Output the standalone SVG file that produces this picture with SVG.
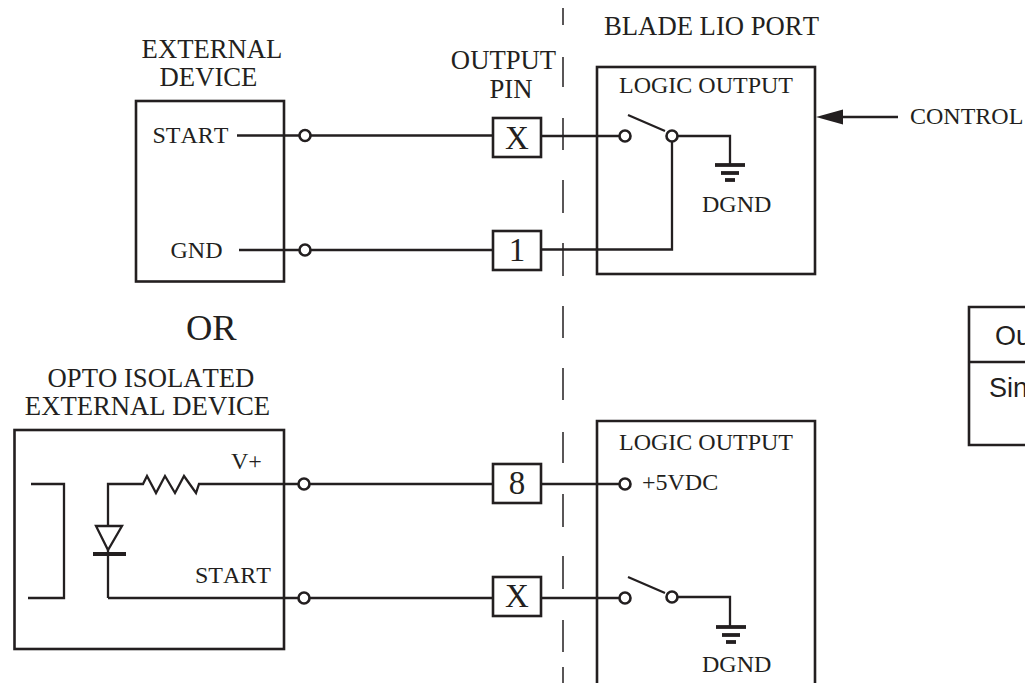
<svg xmlns="http://www.w3.org/2000/svg" width="1025" height="683" viewBox="0 0 1025 683">
<style>
text{font-family:"Liberation Serif","Times New Roman",serif;font-size:24px;fill:#231f20;font-kerning:none}
.l{font-size:26.700px}
.n{font-size:33px;text-anchor:middle}
.s{font-family:"Liberation Sans",Arial,sans-serif;font-size:27px}
.m{text-anchor:middle}
rect,path,line,polyline,circle{fill:none;stroke:#231f20;stroke-width:2.300}
.box{stroke-width:2.600}
circle{fill:#fff;stroke-width:2.600}
.g{stroke-width:3.800}
.d{stroke-width:1.500}
</style>
<defs>
<g id="gnd"><line class="g" x1="-15" x2="15" y1="0" y2="0"/><line class="g" x1="-9" x2="9" y1="8" y2="8"/><line class="g" x1="-5" x2="5" y1="15" y2="15"/></g>
</defs>
<rect width="1025" height="683" fill="#fff" style="fill:#fff;stroke:none"/>
<g id="connectors">
<path id="port-divider" class="d" d="M563 8V25M563 57V87M563 118V150M563 180V213M563 243V276M563 306V338M563 368V400M563 432V463M563 494V527M563 556V589M563 620V652M563 667V683"/>
<path d="M237 135.500H299M311 135.500H493M542 136H619"/>
<path d="M239 250H299M311 250H493M542 249.500H672V142"/>
<path d="M219 484H298M310 484H493M542 484H619"/>
<path d="M108 598H298M310 598H493M542 598H619"/>
<path d="M678 136H730V165"/>
<path d="M678 597H730V626"/>
<line x1="628" y1="115" x2="665" y2="131"/>
<line x1="628" y1="577" x2="665" y2="593"/>
<path d="M898 117H840"/>
<polygon points="816,117 843,109.500 843,124.500" style="fill:#231f20;stroke:none"/>
</g>
<g id="external-device">
<rect class="box" x="136" y="101" width="148" height="180.500"/>
<text class="m l" x="212" y="58">EXTERNAL</text>
<text class="m l" x="208.500" y="85.500">DEVICE</text>
<text x="152.500" y="143">START</text>
<text x="170.500" y="258">GND</text>
<circle cx="305" cy="135.500" r="5.500"/>
<circle cx="305" cy="250" r="5.500"/>
</g>
<text id="or" x="186" y="340" style="font-size:36.500px">OR</text>
<g id="opto-device">
<rect class="box" x="14.500" y="430" width="269.500" height="219"/>
<text class="m l" x="151" y="386.500">OPTO ISOLATED</text>
<text class="m l" x="147.500" y="414.500">EXTERNAL DEVICE</text>
<path d="M31 484H64V598H28"/>
<path d="M142 484H143L147 476L156 493L165 476L175 493L184 476L196 493L199 484H219"/>
<path d="M108 526V484H142"/>
<path d="M96 526H122L108 550Z"/>
<line class="g" x1="93" x2="126" y1="554" y2="554"/>
<line x1="108" y1="550" x2="108" y2="598"/>
<text x="231" y="469">V+</text>
<text x="195" y="583">START</text>
<circle cx="304" cy="484" r="5.500"/>
<circle cx="304" cy="598" r="5.500"/>
</g>
<g id="output-pin">
<text class="m l" x="503.500" y="69">OUTPUT</text>
<text class="m l" x="511" y="98">PIN</text>
</g>
<g id="pin-x-top"><rect class="box" x="493" y="118" width="48" height="39"/><text class="n" x="517" y="149">X</text></g>
<g id="pin-1"><rect class="box" x="493" y="231" width="48" height="39"/><text class="n" x="517" y="261">1</text></g>
<g id="pin-8"><rect class="box" x="493" y="464" width="48" height="39"/><text class="n" x="517" y="494">8</text></g>
<g id="pin-x-bottom"><rect class="box" x="493" y="577" width="48" height="39"/><text class="n" x="517" y="607">X</text></g>
<g id="logic-top">
<text class="l" x="604" y="35">BLADE LIO PORT</text>
<rect class="box" x="597" y="67" width="218" height="207"/>
<text x="619" y="93">LOGIC OUTPUT</text>
<circle cx="625" cy="136" r="5.500"/>
<circle cx="672" cy="136" r="5.500"/>
<use href="#gnd" x="730" y="165"/>
<text x="702" y="212">DGND</text>
</g>
<g id="logic-bottom">
<path class="box" d="M597 683V421H815V683"/>
<text x="619" y="450">LOGIC OUTPUT</text>
<circle cx="625" cy="484" r="5.500"/>
<text x="642" y="490">+5VDC</text>
<circle cx="625" cy="598" r="5.500"/>
<circle cx="672" cy="597" r="5.500"/>
<use href="#gnd" x="731" y="627"/>
<text x="702" y="672">DGND</text>
</g>
<text id="control" x="910" y="124" style="font-size:24px">CONTROL</text>
<g id="output-table">
<path class="box" d="M1026 307H969V445H1026M969 362H1026"/>
<text class="s" x="995" y="345">Ou</text>
<text class="s" x="989" y="397">Sin</text>
</g>
</svg>
